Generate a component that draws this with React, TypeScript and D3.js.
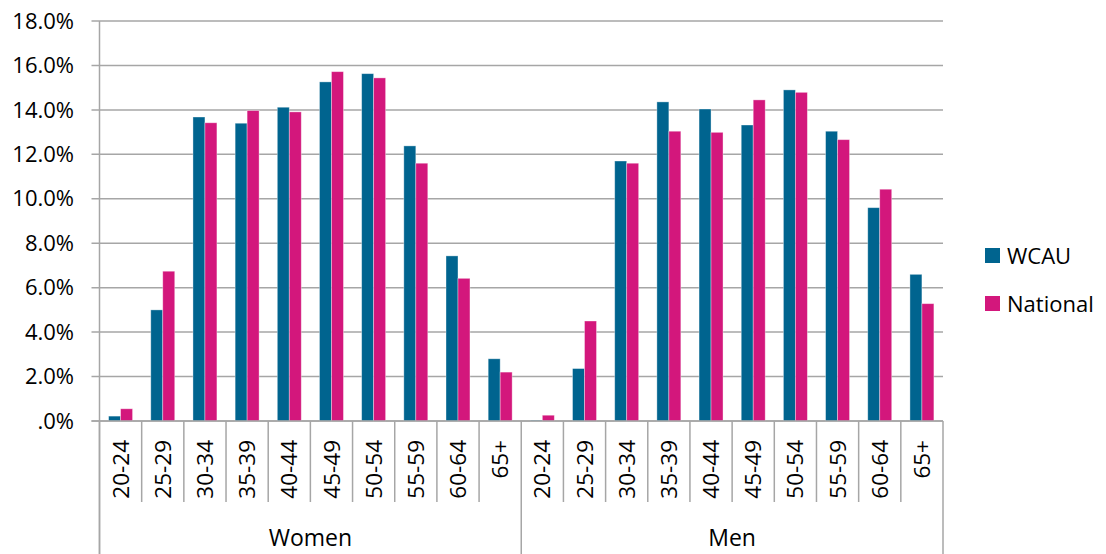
import React, { useEffect, useRef } from 'react';
import * as d3 from 'd3';

const ageBands = ['20-24', '25-29', '30-34', '35-39', '40-44', '45-49', '50-54', '55-59', '60-64', '65+'];
const groups = ['Women', 'Men'];
const seriesNames = ['WCAU', 'National'];
const seriesColors = ['#00648f', '#d3177c'];

const womenWcau = [0.22, 5.0, 13.68, 13.4, 14.12, 15.26, 15.63, 12.38, 7.43, 2.8];
const womenNational = [0.55, 6.74, 13.42, 13.97, 13.91, 15.72, 15.44, 11.6, 6.42, 2.2];
const menWcau = [0.04, 2.36, 11.7, 14.36, 14.04, 13.32, 14.9, 13.04, 9.6, 6.6];
const menNational = [0.26, 4.5, 11.6, 13.04, 12.99, 14.45, 14.79, 12.66, 10.43, 5.28];

const yTicks = [0, 2, 4, 6, 8, 10, 12, 14, 16, 18];

const App = () => {
  const svgRef = useRef<SVGSVGElement>(null);

  useEffect(() => {
    const svg = d3.select(svgRef.current);
    svg.selectAll('*').remove();

    const font = "'Open Sans', sans-serif";
    const left = 99.5, right = 943, top = 21, bottom = 421;
    const innerTickEnd = 502, outerEnd = 554;

    const rows: { key: string; group: string; band: string; values: number[] }[] = [];
    const seriesByGroup = [[womenWcau, womenNational], [menWcau, menNational]];
    groups.forEach((g, gi) => {
      ageBands.forEach((b, bi) => {
        rows.push({ key: g + b, group: g, band: b, values: seriesByGroup[gi].map(s => s[bi]) });
      });
    });

    const x = d3.scaleBand().domain(rows.map(d => d.key)).range([left, right]).padding(0);
    const xInner = d3.scaleBand().domain(seriesNames).range([0, x.bandwidth()]).paddingOuter(0.76).paddingInner(0);
    const y = d3.scaleLinear().domain([0, 18]).range([bottom, top]);

    const fmt = (v: number) => (v === 0 ? '.0%' : d3.format('.1f')(v) + '%');

    // gridlines
    svg.append('g')
      .selectAll('line')
      .data(yTicks)
      .enter().append('line')
      .attr('x1', left - 8)
      .attr('x2', right)
      .attr('y1', d => y(d))
      .attr('y2', d => y(d))
      .attr('stroke', '#a6a6a6')
      .attr('stroke-width', 1.5);

    // y tick labels
    svg.append('g')
      .selectAll('text')
      .data(yTicks)
      .enter().append('text')
      .attr('x', 74)
      .attr('y', d => y(d))
      .attr('dy', '0.35em')
      .attr('text-anchor', 'end')
      .style('font-family', font)
      .style('font-size', '22px')
      .style('fill', '#000')
      .text(fmt);

    // bars
    const cat = svg.append('g')
      .selectAll('g')
      .data(rows)
      .enter().append('g')
      .attr('transform', d => `translate(${x(d.key)},0)`);

    cat.selectAll('rect')
      .data(d => d.values.map((v, i) => ({ v, name: seriesNames[i], color: seriesColors[i] })))
      .enter().append('rect')
      .attr('x', d => xInner(d.name)!)
      .attr('width', xInner.bandwidth())
      .attr('y', d => y(d.v))
      .attr('height', d => bottom - y(d.v))
      .attr('fill', d => d.color)
      .attr('stroke', 'rgba(255,255,255,0.45)')
      .attr('stroke-width', 0.8);

    // left axis line
    svg.append('line')
      .attr('x1', left).attr('x2', left)
      .attr('y1', top).attr('y2', outerEnd)
      .attr('stroke', '#a6a6a6').attr('stroke-width', 1.5);

    // category axis line
    svg.append('line')
      .attr('x1', left - 8).attr('x2', right)
      .attr('y1', bottom).attr('y2', bottom)
      .attr('stroke', '#a6a6a6').attr('stroke-width', 1.5);

    // category dividers
    const boundaries = rows.map(d => x(d.key)!).concat([right]);
    svg.append('g')
      .selectAll('line')
      .data(boundaries)
      .enter().append('line')
      .attr('x1', d => d).attr('x2', d => d)
      .attr('y1', bottom)
      .attr('y2', (d, i) => (i % ageBands.length === 0 ? outerEnd : innerTickEnd))
      .attr('stroke', '#a6a6a6')
      .attr('stroke-width', 1.5);

    // age band labels
    svg.append('g')
      .selectAll('text')
      .data(rows)
      .enter().append('text')
      .attr('transform', d => `translate(${x(d.key)! + x.bandwidth() / 2},440) rotate(-90)`)
      .attr('text-anchor', 'end')
      .attr('dy', '0.36em')
      .style('font-family', font)
      .style('font-size', '22.5px')
      .style('fill', '#000')
      .text(d => d.band);

    // group labels
    svg.append('g')
      .selectAll('text')
      .data(groups)
      .enter().append('text')
      .attr('x', g => {
        const first = x(g + ageBands[0])!;
        const last = x(g + ageBands[ageBands.length - 1])! + x.bandwidth();
        return (first + last) / 2;
      })
      .attr('y', 545.5)
      .attr('text-anchor', 'middle')
      .style('font-family', font)
      .style('font-size', '23px')
      .style('fill', '#000')
      .text(g => g);

    // legend
    const legend = svg.append('g')
      .selectAll('g')
      .data(seriesNames)
      .enter().append('g')
      .attr('transform', (d, i) => `translate(985,${248 + i * 48})`);

    legend.append('rect')
      .attr('width', 15)
      .attr('height', 15)
      .attr('fill', (d, i) => seriesColors[i]);

    legend.append('text')
      .attr('x', 22)
      .attr('y', 15.5)
      .style('font-family', font)
      .style('font-size', '22px')
      .style('fill', '#000')
      .text(d => d);
  }, []);

  return (
    <svg
      ref={svgRef}
      width={1106}
      height={554}
      style={{ position: 'absolute', left: 0, top: 0, background: '#fff' }}
    />
  );
};

export default App;
